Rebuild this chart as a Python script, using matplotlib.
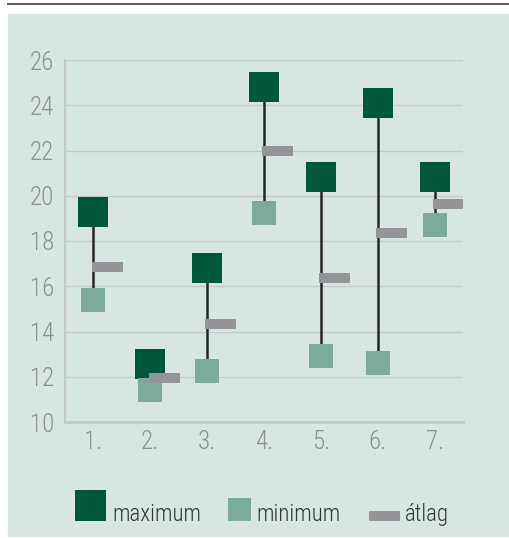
import numpy as np
import matplotlib
matplotlib.use("Agg")
import matplotlib.pyplot as plt
from matplotlib.patches import Rectangle
from matplotlib.lines import Line2D

# napi értékek: maximum, minimum, átlag
categories = ["1.", "2.", "3.", "4.", "5.", "6.", "7."]
maximum = [19.3, 12.55, 16.8, 24.8, 20.85, 24.1, 20.85]
minimum = [15.4, 11.4, 12.25, 19.25, 12.9, 12.6, 18.7]
atlag = [16.85, 11.95, 14.35, 22.0, 16.35, 18.35, 19.65]
y_ticks = [10, 12, 14, 16, 18, 20, 22, 24, 26]

DARK = "#00573c"
LIGHT = "#7aab9b"
GREY = "#949498"
BG = "#d8e6e1"
plt.rcParams["font.family"] = ["Roboto Condensed", "DejaVu Sans"]
plt.rcParams["font.weight"] = "light"

W, H = 510, 538
fig = plt.figure(figsize=(W / 100, H / 100), dpi=100)
fig.patch.set_facecolor("white")

# panel háttér és felső vonal
fig.patches.append(Rectangle((8 / W, 2 / H), 1 - 8 / W, 522 / H,
                             transform=fig.transFigure, color=BG, zorder=-5))
fig.lines.append(Line2D([8 / W, 1], [534 / H, 534 / H], transform=fig.transFigure,
                        color="#626262", lw=1.5, zorder=-5))

ax = fig.add_axes([65 / W, 116 / H, 398 / W, 362 / H])
ax.set_facecolor("none")
x = np.arange(len(categories)) + 0.5

ax.vlines(x, minimum, maximum, colors="#262626", lw=1.8, zorder=2)
ax.plot(x, maximum, "s", ms=22.3, mew=0, color=DARK, zorder=3, clip_on=False)
ax.plot(x, minimum, "s", ms=16.6, mew=0, color=LIGHT, zorder=3, clip_on=False)
ax.hlines(atlag, x - 0.03, x + 0.515, colors=GREY, lw=7.2, zorder=4,
          capstyle="butt")

ax.set_xlim(0, len(categories))
ax.set_ylim(10, 26)
ax.set_yticks(y_ticks)
ax.set_xticks(x, categories)
ax.grid(axis="y", color="#c5c8c6", lw=1.0, zorder=1)
ax.set_axisbelow(True)
for s in ("top", "right"):
    ax.spines[s].set_visible(False)
ax.spines["left"].set_color("#c3c6c4")
ax.spines["left"].set_linewidth(1.6)
ax.spines["bottom"].set_color("#c3c6c4")
ax.spines["bottom"].set_linewidth(2.0)
ax.tick_params(length=0, labelsize=18, labelcolor="#8e8e8e")
ax.tick_params(axis="y", pad=8)
ax.tick_params(axis="x", pad=6)

# jelmagyarázat pixel koordinátákban
lg = fig.add_axes([0, 0, 1, 1])
lg.set_xlim(0, W)
lg.set_ylim(H, 0)
lg.axis("off")
lg.patch.set_visible(False)
lg.add_patch(Rectangle((75, 490), 31, 31, color=DARK, lw=0))
lg.add_patch(Rectangle((228, 498), 23, 23, color=LIGHT, lw=0))
lg.add_patch(Rectangle((369, 511), 31, 10, color=GREY, lw=0))
for tx, label in [(112, "maximum"), (256, "minimum"), (405, "átlag")]:
    lg.text(tx, 521, label, fontsize=16.5, color="#333333", va="baseline", ha="left")

fig.savefig("out.png", dpi=100)
